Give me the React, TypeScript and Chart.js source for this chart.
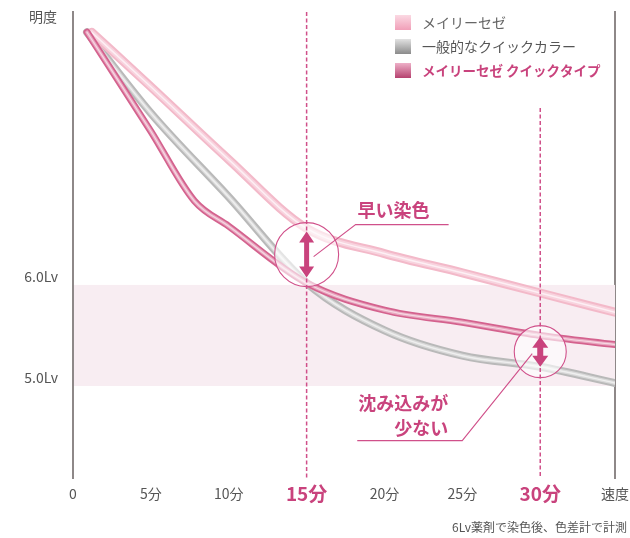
import React, { useEffect, useRef } from 'react';
import { Chart, registerables } from 'chart.js';

Chart.register(...registerables);

// ---- data ----
const seriesNames = ['メイリーセゼ', '一般的なクイックカラー', 'メイリーセゼ クイックタイプ'];
const meiriTimes = [1.2, 5, 10, 15, 20, 25, 30, 34.8];
const meiriValues = [8.5, 7.96, 7.24, 6.56, 6.31, 6.12, 5.92, 5.73];
const generalTimes = [0.9, 5, 10, 15, 20, 25, 30, 34.8];
const generalValues = [8.5, 7.7, 6.87, 6.02, 5.55, 5.3, 5.19, 5.03];
const quickTimes = [0.9, 5, 7.8, 10, 15, 20, 25, 30, 34.8];
const quickValues = [8.5, 7.52, 6.83, 6.58, 6.02, 5.75, 5.63, 5.5, 5.41];

const xTickValues = [0, 5, 10, 15, 20, 25, 30, 34.8];
const xTickLabels = ['0', '5分', '10分', '15分', '20分', '25分', '30分', '速度'];
const highlightTicks = [15, 30];
const yTickValues = [5, 6];
const yTickLabels = ['5.0Lv', '6.0Lv'];
const yAxisTitle = '明度';
const bandRange = [5, 6];
const calloutFast = ['早い染色'];
const calloutSink = ['沈み込みが', '少ない'];
const footnote = '6Lv薬剤で染色後、色差計で計測';

const X_MIN = 0;
const X_MAX = 34.8;
const Y_MIN = 4.09;
const Y_MAX = 8.7;

const FONT = '"Noto Sans CJK JP", "Noto Sans", sans-serif';
const ACCENT = '#c9437d';
const LINE_ACCENT = '#d0508a';
const TEXT = '#555555';

type Layer = { w: number; c: string };
const seriesStyles: { layers: Layer[]; legend: [string, string]; text: string; bold: boolean }[] = [
  {
    layers: [
      { w: 9, c: '#f3b9c9' },
      { w: 5, c: '#f8d3de' },
      { w: 1.5, c: '#fdeff4' },
    ],
    legend: ['#fbd9e3', '#f09bb5'],
    text: '#666666',
    bold: false,
  },
  {
    layers: [
      { w: 8, c: '#b9b9b9' },
      { w: 4, c: '#d9d9d9' },
      { w: 1.5, c: '#efefef' },
    ],
    legend: ['#e2e2e2', '#858585'],
    text: '#555555',
    bold: false,
  },
  {
    layers: [
      { w: 7, c: '#d4628e' },
      { w: 3.5, c: '#e8a6bf' },
      { w: 1.2, c: '#f6d8e3' },
    ],
    legend: ['#eeb0c8', '#b23a69'],
    text: ACCENT,
    bold: true,
  },
];

const seriesData = [
  { t: meiriTimes, v: meiriValues },
  { t: generalTimes, v: generalValues },
  { t: quickTimes, v: quickValues },
];

function drawArrow(ctx: CanvasRenderingContext2D, cx: number, y1: number, y2: number, headW: number, headH: number, shaftW: number) {
  ctx.beginPath();
  ctx.moveTo(cx, y1);
  ctx.lineTo(cx + headW / 2, y1 + headH);
  ctx.lineTo(cx + shaftW / 2, y1 + headH);
  ctx.lineTo(cx + shaftW / 2, y2 - headH);
  ctx.lineTo(cx + headW / 2, y2 - headH);
  ctx.lineTo(cx, y2);
  ctx.lineTo(cx - headW / 2, y2 - headH);
  ctx.lineTo(cx - shaftW / 2, y2 - headH);
  ctx.lineTo(cx - shaftW / 2, y1 + headH);
  ctx.lineTo(cx - headW / 2, y1 + headH);
  ctx.closePath();
  ctx.fillStyle = ACCENT;
  ctx.fill();
}

const decorPlugin = {
  id: 'decor',
  beforeDatasetsDraw(chart: any) {
    const { ctx, chartArea, scales } = chart;
    const y = scales.y;
    const top = y.getPixelForValue(bandRange[1]);
    const bot = y.getPixelForValue(bandRange[0]);
    ctx.save();
    ctx.fillStyle = '#f8edf2';
    ctx.fillRect(chartArea.left + 1, top, chartArea.right - chartArea.left - 1, bot - top);
    ctx.restore();
  },
  afterDatasetsDraw(chart: any) {
    const { ctx, chartArea, scales } = chart;
    const x = scales.x;
    const y = scales.y;
    const c1x = x.getPixelForValue(15);
    const c1y = y.getPixelForValue(6.3);
    const c2x = x.getPixelForValue(30);
    const c2y = y.getPixelForValue(5.34);
    ctx.save();
    ctx.fillStyle = 'rgba(255,255,255,0.62)';
    ctx.beginPath();
    ctx.arc(c1x, c1y, 32, 0, Math.PI * 2);
    ctx.fill();
    ctx.beginPath();
    ctx.arc(c2x, c2y, 26, 0, Math.PI * 2);
    ctx.fill();
    ctx.strokeStyle = LINE_ACCENT;
    ctx.lineWidth = 1.5;
    ctx.setLineDash([4, 2.5]);
    ctx.beginPath();
    ctx.moveTo(c1x, chartArea.top);
    ctx.lineTo(c1x, chartArea.bottom);
    ctx.moveTo(c2x, y.getPixelForValue(7.75));
    ctx.lineTo(c2x, chartArea.bottom);
    ctx.stroke();
    ctx.setLineDash([]);
    ctx.lineWidth = 1.1;
    ctx.beginPath();
    ctx.arc(c1x, c1y, 32, 0, Math.PI * 2);
    ctx.stroke();
    ctx.beginPath();
    ctx.arc(c2x, c2y, 26, 0, Math.PI * 2);
    ctx.stroke();
    drawArrow(ctx, c1x, c1y - 23, c1y + 23, 15, 11, 5);
    drawArrow(ctx, c2x, c2y - 15, c2y + 15, 16, 11, 6);
    ctx.strokeStyle = LINE_ACCENT;
    ctx.lineWidth = 1.1;
    ctx.beginPath();
    ctx.moveTo(c1x + 7, c1y + 2);
    ctx.lineTo(c1x + 49, c1y - 30);
    ctx.lineTo(c1x + 142, c1y - 30);
    ctx.stroke();
    ctx.beginPath();
    ctx.moveTo(c2x - 8, c2y + 2);
    ctx.lineTo(c2x - 78, c2y + 89);
    ctx.lineTo(c2x - 183, c2y + 89);
    ctx.stroke();
    ctx.fillStyle = ACCENT;
    ctx.font = `bold 18px ${FONT}`;
    ctx.textBaseline = 'middle';
    ctx.textAlign = 'left';
    ctx.fillText(calloutFast[0], c1x + 51, c1y - 44);
    ctx.textAlign = 'right';
    ctx.fillText(calloutSink[0], c2x - 92, c2y + 52);
    ctx.fillText(calloutSink[1], c2x - 92, c2y + 77);
    ctx.restore();
  },
  afterDraw(chart: any) {
    const { ctx, chartArea } = chart;
    ctx.save();
    ctx.fillStyle = TEXT;
    ctx.font = `14px ${FONT}`;
    ctx.textAlign = 'right';
    ctx.textBaseline = 'middle';
    ctx.fillText(yAxisTitle, chartArea.left - 16, chartArea.top + 5);
    const lx = 395;
    const rows = [23, 47, 71];
    seriesNames.forEach((name, i) => {
      const st = seriesStyles[i];
      const ry = rows[i];
      const g = ctx.createLinearGradient(0, ry - 8, 0, ry + 8);
      g.addColorStop(0, st.legend[0]);
      g.addColorStop(1, st.legend[1]);
      ctx.fillStyle = g;
      ctx.fillRect(lx, ry - 8, 16, 15);
      ctx.fillStyle = st.text;
      ctx.font = `${st.bold ? 'bold ' : ''}${st.bold ? 13.5 : 14}px ${FONT}`;
      ctx.textAlign = 'left';
      ctx.fillText(name, lx + 27, ry);
    });
    ctx.fillStyle = TEXT;
    ctx.font = `12px ${FONT}`;
    ctx.textAlign = 'left';
    ctx.fillText(footnote, 452, 527);
    ctx.restore();
  },
};

const zeroPad = (s: any) => {
  s.paddingTop = 0;
  s.paddingBottom = 0;
  s.paddingLeft = 0;
  s.paddingRight = 0;
};

export default function App() {
  const ref = useRef<HTMLCanvasElement | null>(null);
  useEffect(() => {
    if (!ref.current) return;
    const datasets: any[] = [];
    const drawOrder = [1, 0, 2];
    drawOrder.forEach((si) => {
      const st = seriesStyles[si];
      const d = seriesData[si];
      const pts = d.t.map((t, i) => ({ x: t, y: d.v[i] }));
      st.layers.forEach((ly) => {
        datasets.push({
          label: seriesNames[si],
          data: pts,
          borderColor: ly.c,
          borderWidth: ly.w,
          pointRadius: 0,
          cubicInterpolationMode: 'monotone',
          borderCapStyle: 'round',
          borderJoinStyle: 'round',
          fill: false,
        });
      });
    });
    datasets.forEach((ds, i) => {
      ds.order = datasets.length - i;
    });

    const tickFont = (ctx: any) => {
      const hl = ctx.tick && highlightTicks.includes(ctx.tick.value);
      return hl
        ? { family: FONT, size: 19, weight: 'bold', lineHeight: '24px' }
        : { family: FONT, size: 14, weight: 'normal', lineHeight: '24px' };
    };

    const chart = new Chart(ref.current, {
      type: 'line',
      data: { datasets },
      options: {
        animation: false,
        responsive: false,
        devicePixelRatio: 1,
        layout: { padding: { top: 12, left: 0, right: 0, bottom: 0 } },
        plugins: { legend: { display: false }, tooltip: { enabled: false } },
        scales: {
          x: {
            type: 'linear',
            min: X_MIN,
            max: X_MAX,
            afterBuildTicks: (s: any) => {
              s.ticks = xTickValues.map((v) => ({ value: v }));
            },
            afterFit: (s: any) => {
              s.height = 60;
              zeroPad(s);
            },
            grid: { display: false, drawTicks: false },
            border: { display: false },
            ticks: {
              autoSkip: false,
              maxRotation: 0,
              padding: 4,
              callback: (v: any) => xTickLabels[xTickValues.indexOf(Number(v))],
              font: tickFont as any,
              color: (ctx: any) => (ctx.tick && highlightTicks.includes(ctx.tick.value) ? ACCENT : TEXT),
            },
          },
          y: {
            type: 'linear',
            min: Y_MIN,
            max: Y_MAX,
            afterBuildTicks: (s: any) => {
              s.ticks = yTickValues.map((v) => ({ value: v }));
            },
            afterFit: (s: any) => {
              s.width = 73;
              zeroPad(s);
            },
            grid: { display: false, drawTicks: false },
            border: { display: true, color: '#8e8888', width: 2 },
            ticks: {
              padding: 15,
              labelOffset: -8,
              callback: (v: any) => yTickLabels[yTickValues.indexOf(Number(v))],
              font: { family: FONT, size: 14 },
              color: TEXT,
            },
          },
          y2: {
            type: 'linear',
            position: 'right',
            display: true,
            min: Y_MIN,
            max: Y_MAX,
            afterFit: (s: any) => {
              s.width = 15;
              zeroPad(s);
            },
            grid: { display: false, drawTicks: false },
            border: { display: true, color: '#8e8888', width: 2 },
            ticks: { display: false },
          },
        },
      },
      plugins: [decorPlugin],
    });
    return () => chart.destroy();
  }, []);

  return (
    <div style={{ position: 'absolute', left: 0, top: 0, width: 630, height: 538, background: '#fff' }}>
      <canvas ref={ref} width={630} height={538} style={{ display: 'block' }} />
    </div>
  );
}
